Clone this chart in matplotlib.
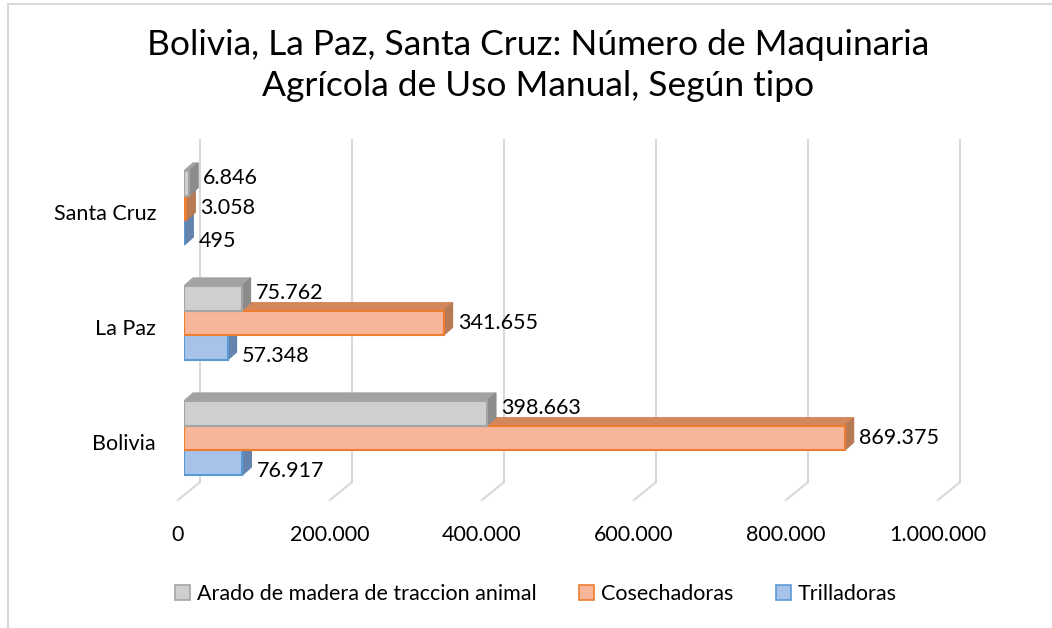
import matplotlib.pyplot as plt
from matplotlib.patches import Polygon, Rectangle, Patch
import numpy as np

plt.rcParams['font.family'] = ['Lato', 'DejaVu Sans']

categories = ['Bolivia', 'La Paz', 'Santa Cruz']
series_names = ['Arado de madera de traccion animal', 'Cosechadoras', 'Trilladoras']
arado = [398663, 75762, 6846]
cosechadoras = [869375, 341655, 3058]
trilladoras = [76917, 57348, 495]
xticks = [0, 200000, 400000, 600000, 800000, 1000000]
xtick_labels = ['0', '200.000', '400.000', '600.000', '800.000', '1.000.000']

def fmt(v):
    return '{:,}'.format(v).replace(',', '.')

W, H = 1052, 628
fig = plt.figure(figsize=(W / 100, H / 100), dpi=100)
# chart border (light grey, cut off on right/bottom)
fig.patches.append(Rectangle((8 / W, -0.1), 1.2, (H - 4) / H + 0.1, transform=fig.transFigure,
                             fill=False, edgecolor='#d9d9d9', linewidth=1.5))

# plot area: x 184..944 px, y 140..500 px
ax = fig.add_axes([184 / W, (H - 500) / H, 760 / W, 360 / H])
ax.set_xlim(0, 1000000)
ax.set_ylim(-0.539, 2.591)
ax.axis('off')

px_x = 1000000 / 760.0   # data units per pixel (x)
px_y = 3.13 / 360.0      # data units per pixel (y)

# gridlines: back plane + diagonal floor
back_dx, back_bottom = 16 * px_x, -0.383
for t in xticks:
    ax.plot([t + back_dx, t + back_dx], [back_bottom, 2.591], color='#d9d9d9', lw=1.5,
            clip_on=False, zorder=1)
    ax.plot([t + back_dx, t - 6 * px_x], [back_bottom, -0.539], color='#d9d9d9', lw=1.5,
            clip_on=False, zorder=1)

y = np.arange(len(categories))
h = 0.215
dx, dy = 9 * px_x, 8 * px_y

styles = [
    # front, edge, top, side
    ('#cfcfcf', '#a5a5a5', '#a3a3a3', '#8c8c8c'),
    ('#f7b59a', '#ed7d31', '#d5875c', '#b87a55'),
    ('#a7c3ea', '#5b9bd5', '#87a5cd', '#6483ad'),
]
offsets = [h, 0, -h]
label_shift = [5, 0, -8]  # px, label nudge per series
data = [arado, cosechadoras, trilladoras]

fs = 15.5

# draw from bottom series to top so upper bars hide lower top faces
for k in [2, 1, 0]:
    front, edge, top, side = styles[k]
    for i, v in enumerate(data[k]):
        yc = y[i] + offsets[k]
        y0, y1 = yc - h / 2, yc + h / 2
        z = 3 + (2 - k)
        ax.add_patch(Polygon([(0, y1), (v, y1), (v + dx, y1 + dy), (dx, y1 + dy)],
                             closed=True, facecolor=top, edgecolor=top, lw=0.8, zorder=z))
        ax.add_patch(Polygon([(v, y0), (v, y1), (v + dx, y1 + dy), (v + dx, y0 + dy)],
                             closed=True, facecolor=side, edgecolor=side, lw=0.8, zorder=z))
    ax.barh(y + offsets[k], data[k], height=h, color=front, edgecolor=edge, linewidth=1.5,
            zorder=3 + (2 - k))
    for i, v in enumerate(data[k]):
        ax.text(v + dx + 5 * px_x, y[i] + offsets[k] + label_shift[k] * px_y, fmt(v),
                ha='left', va='center', fontsize=fs, color='black', zorder=10)

for i, c in enumerate(categories):
    ax.text(-28 * px_x, y[i] - 0.05, c, ha='right', va='center', fontsize=fs, color='black')

for t, lab in zip(xticks, xtick_labels):
    ax.text(t - 6 * px_x, -0.539 - 35 * px_y, lab, ha='center', va='center', fontsize=fs,
            color='black', clip_on=False)

fig.text(538 / W, 1 - 45 / H, 'Bolivia, La Paz, Santa Cruz: Número de Maquinaria',
         ha='center', va='center', fontsize=25.5, color='black')
fig.text(538 / W, 1 - 86 / H, 'Agrícola de Uso Manual, Según tipo',
         ha='center', va='center', fontsize=25.5, color='black')

handles = [Patch(facecolor=s[0], edgecolor=s[1], linewidth=1.2) for s in styles]
fig.legend(handles, series_names, loc='center', bbox_to_anchor=(536 / W, 1 - 594 / H), ncol=3,
           frameon=False, fontsize=fs, handlelength=0.7, handleheight=0.7, handletextpad=0.3,
           columnspacing=2.0)

fig.savefig('out.png', dpi=100)
